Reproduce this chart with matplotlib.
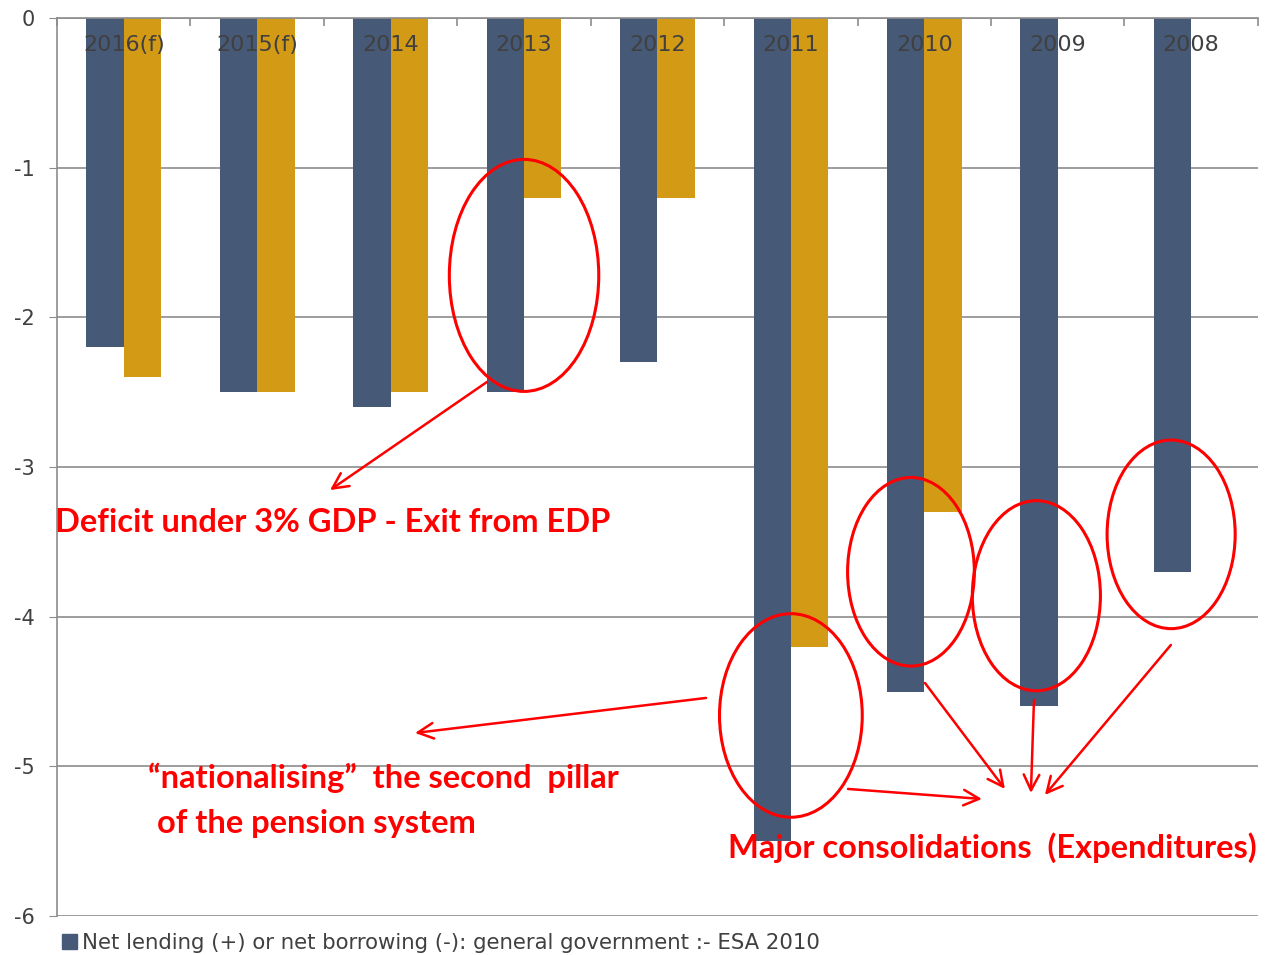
import numpy as np
import matplotlib.pyplot as plt
from matplotlib.patches import Ellipse, Patch

years = ['2016(f)', '2015(f)', '2014', '2013', '2012', '2011', '2010', '2009', '2008']
esa2010 = [-2.2, -2.5, -2.6, -2.5, -2.3, -5.5, -4.5, -4.6, -3.7]
second = [-2.4, -2.5, -2.5, -1.2, -1.2, -4.2, -3.3, np.nan, np.nan]

blue = '#465A78'
gold = '#D39A15'
red = '#FF0000'

fig = plt.figure(figsize=(12.68, 9.55), dpi=100)
ax = fig.add_axes([0.045, 0.0408, 0.947, 0.9404])

x = np.arange(len(years))
w = 0.28
ax.bar(x - w / 2, esa2010, w, color=blue, zorder=2)
ax.bar(x + w / 2, second, w, color=gold, zorder=2)

ax.set_xlim(-0.5, len(years) - 0.5)
ax.set_ylim(-6, 0)
ax.set_yticks(np.arange(-6, 1, 1))
ax.set_yticklabels([str(v) for v in range(-6, 1)], fontsize=15, color='#404040')
ax.yaxis.grid(True, color='#8C8C8C', lw=1.2, zorder=0)
ax.tick_params(axis='y', length=6, color='#8C8C8C', pad=10)

ax.xaxis.tick_top()
ax.set_xticks(np.arange(-0.5, len(years), 1))
ax.set_xticklabels([])
ax.tick_params(axis='x', direction='in', length=6, color='#8C8C8C', width=1.2)
for s in ['right', 'bottom']:
    ax.spines[s].set_visible(False)
for s in ['left', 'top']:
    ax.spines[s].set_color('#8C8C8C')
    ax.spines[s].set_linewidth(1.2)

for i, lab in enumerate(years):
    ax.text(i, -0.18, lab, ha='center', va='center', fontsize=16,
            color='#404040', zorder=5)

# annotations
ellipses = [(3.0, -1.72, 1.12, 1.55), (5.0, -4.66, 1.07, 1.36),
            (5.9, -3.70, 0.95, 1.26), (6.84, -3.86, 0.96, 1.27),
            (7.85, -3.45, 0.96, 1.26)]
for cx, cy, ew, eh in ellipses:
    ax.add_patch(Ellipse((cx, cy), ew, eh, fill=False, ec=red, lw=2.2, zorder=6))

arrows = [((2.722, -2.432), (1.546, -3.154)),
          ((4.364, -4.543), (2.183, -4.777)),
          ((5.428, -5.151), (6.432, -5.218)),
          ((6.005, -4.443), (6.604, -5.151)),
          ((6.822, -4.557), (6.799, -5.178)),
          ((7.848, -4.189), (6.904, -5.191))]
for start, end in arrows:
    ax.annotate('', xy=end, xytext=start,
                arrowprops=dict(arrowstyle='->', color=red, lw=1.8,
                                mutation_scale=28, shrinkA=0, shrinkB=0),
                zorder=6)

tkw = dict(color=red, fontweight='bold', fontsize=23.5, family='Lato',
           va='center', ha='left', zorder=7, clip_on=False)
ax.text(-0.515, -3.374, 'Deficit under 3% GDP - Exit from EDP', **tkw)
ax.text(0.182, -5.078, '\u201cnationalising\u201d  the second  pillar', **tkw)
ax.text(0.249, -5.379, 'of the pension system', **tkw)
ax.text(4.528, -5.546, 'Major consolidations  (Expenditures)', **tkw)

fig.legend(handles=[Patch(color=blue)],
           labels=['Net lending (+) or net borrowing (-): general government :- ESA 2010'],
           loc='lower left', bbox_to_anchor=(0.034, -0.018), frameon=False,
           fontsize=15.3, handlelength=0.7, handleheight=0.7, handletextpad=0.25,
           labelcolor='#404040')

fig.savefig('out.png', dpi=100)
